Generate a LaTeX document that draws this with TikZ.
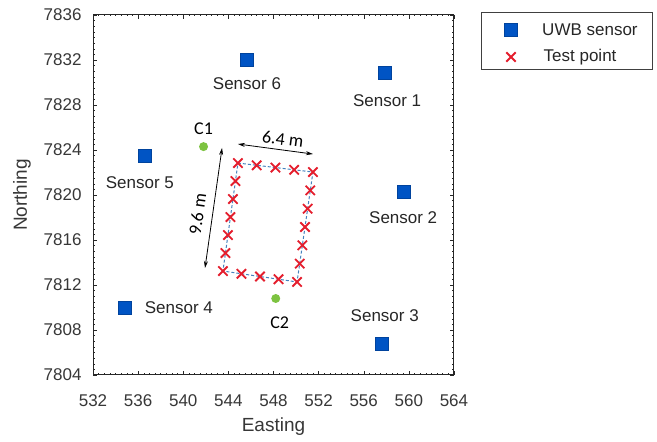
\documentclass[tikz,border=0pt]{standalone}
\usepackage{fontspec}
\setmainfont{Liberation Sans}
\newfontfamily\calibri{Carlito}
\usetikzlibrary{positioning,calc,arrows.meta,shapes.misc}
\definecolor{uwbblue}{RGB}{0,84,196}
\definecolor{tpred}{RGB}{228,30,45}
\definecolor{trackblue}{RGB}{70,130,190}
\definecolor{cgreen}{RGB}{125,195,65}
\definecolor{ticktext}{RGB}{55,55,55}

\tikzset{
  sensor/.style={fill=uwbblue, draw=uwbblue!80!black, line width=0.4pt, minimum size=13pt, inner sep=0pt},
  testpt/.style={cross out, draw=tpred, line width=1.8pt, minimum size=7.5pt, inner sep=0pt},
  ctrl/.style={circle, fill=cgreen, minimum size=9pt, inner sep=0pt},
  lbl/.style={font=\fontsize{17}{19}\selectfont, text=black!85},
  clbl/.style={font=\calibri\fontsize{18}{20}\selectfont},
  ticklbl/.style={font=\fontsize{17}{19}\selectfont, text=ticktext},
  axlbl/.style={font=\fontsize{19}{21}\selectfont, text=ticktext},
  track/.style={trackblue, dash pattern=on 3pt off 2pt, line width=1pt},
  dimarrow/.style={<->, >={Stealth[length=7pt,width=4pt]}, line width=0.8pt},
}

\begin{document}
\begin{tikzpicture}[x=1pt, y=1pt]
  \useasboundingbox (0,0) rectangle (657,442);
  % plot area, origin at (532,7804)
  \begin{scope}[shift={(93pt,67pt)}, x=11.28pt, y=11.25pt]
    \draw[line width=1pt, black!85] (0,0) rectangle (32,32);
    \foreach \t in {0,0.5,...,32} {
      \draw[black!85] (\t,0) -- ++(0,1.5pt) (\t,32) -- ++(0,-1.5pt);
      \draw[black!85] (0,\t) -- ++(1.5pt,0) (32,\t) -- ++(-1.5pt,0);
    }
    \foreach \t in {0,4,...,32} {
      \draw[black!85] (\t,0) -- ++(0,4pt) (\t,32) -- ++(0,-4pt);
      \draw[black!85] (0,\t) -- ++(4pt,0) (32,\t) -- ++(-4pt,0);
    }
    \foreach \e in {532,536,...,564}
      \node[ticklbl, below=16pt] (x\e) at ({\e-532},0) {\e};
    \foreach \n in {7804,7808,...,7836}
      \node[ticklbl, left=8pt] (y\n) at (0,{\n-7804}) {\n};
    \node[axlbl] (xlab) at (16,-4.62) {Easting};
    \node[axlbl, rotate=90] (ylab) at (-6.29,16) {Northing};

    \node[sensor] (s1) at (25.9,26.9) {};
    \node[lbl, below=12pt of s1, xshift=2pt] (s1-lbl) {Sensor 1};
    \node[sensor] (s2) at (27.5,16.3) {};
    \node[lbl, below=10pt of s2] (s2-lbl) {Sensor 2};
    \node[sensor] (s3) at (25.6,2.8) {};
    \node[lbl, above=12pt of s3, xshift=3pt] (s3-lbl) {Sensor 3};
    \node[sensor] (s4) at (2.8,6.0) {};
    \node[lbl, right=10pt of s4] (s4-lbl) {Sensor 4};
    \node[sensor] (s5) at (4.6,19.5) {};
    \node[lbl, below=11pt of s5, xshift=-5pt] (s5-lbl) {Sensor 5};
    \node[sensor] (s6) at (13.65,28.0) {};
    \node[lbl, below=7pt of s6] (s6-lbl) {Sensor 6};

    \node[ctrl] (c1) at (9.8,20.3) {};
    \node[clbl, above=4pt of c1] (c1-lbl) {C1};
    \node[ctrl] (c2) at (16.2,6.8) {};
    \node[clbl, below=10pt of c2, xshift=4pt] (c2-lbl) {C2};

    \coordinate (TL) at (12.85,18.84);
    \coordinate (TR) at (19.50,18.04);
    \coordinate (BR) at (18.09,8.27);
    \coordinate (BL) at (11.52,9.24);
    \draw[track] (TL) -- (TR) -- (BR) -- (BL) -- cycle;
    \foreach \i in {0,...,3} {
      \node[testpt] (top\i) at ($(TL)!\i/4!(TR)$) {};
      \node[testpt] (bot\i) at ($(BR)!\i/4!(BL)$) {};
    }
    \foreach \i in {0,...,5} {
      \node[testpt] (rgt\i) at ($(TR)!\i/6!(BR)$) {};
      \node[testpt] (lft\i) at ($(BL)!\i/6!(TL)$) {};
    }

    \coordinate (w1) at (12.85,20.53);
    \coordinate (w2) at (19.50,19.64);
    \draw[dimarrow] (w1) -- node[clbl, sloped, above=1pt, pos=0.58] (w-lbl) {6.4 m} (w2);
    \coordinate (h1) at (9.93,9.51);
    \coordinate (h2) at (11.44,20.18);
    \draw[dimarrow] (h1) -- node[clbl, sloped, above=5pt, pos=0.43] (h-lbl) {9.6 m} (h2);
  \end{scope}

  % legend
  \draw[line width=1pt, black!75] (481,372) rectangle (652,429);
  \node[sensor] (leg-s) at (511,412) {};
  \node[lbl, right=21pt of leg-s] (leg-s-lbl) {UWB sensor};
  \node[testpt] (leg-t) at (511,385) {};
  \node[lbl, right=24.5pt of leg-t] (leg-t-lbl) {Test point};
\end{tikzpicture}
\end{document}
